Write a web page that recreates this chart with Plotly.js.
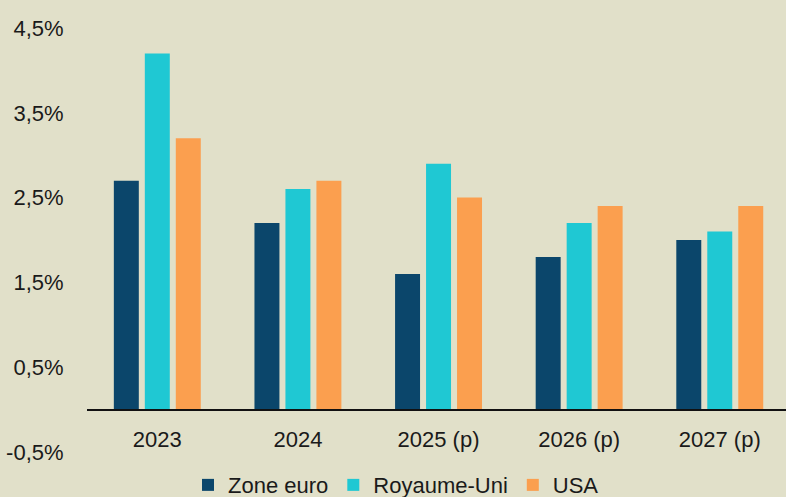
<!DOCTYPE html>
<html>
<head>
<meta charset="utf-8">
<script src="https://cdn.plot.ly/plotly-3.0.1.min.js"></script>
<style>
  html, body { margin: 0; padding: 0; background: #e1e0c9; }
  #chart { width: 786px; height: 497px; }
</style>
</head>
<body>
<div id="chart"></div>
<script>
var categories = ["2023", "2024", "2025 (p)", "2026 (p)", "2027 (p)"];
var seriesNames = ["Zone euro", "Royaume-Uni", "USA"];
var zoneEuro = [2.7, 2.2, 1.6, 1.8, 2.0];
var royaumeUni = [4.2, 2.6, 2.9, 2.2, 2.1];
var usa = [3.2, 2.7, 2.5, 2.4, 2.4];
var tickVals = [-0.5, 0.5, 1.5, 2.5, 3.5, 4.5];
var tickLabels = ["-0,5%", "0,5%", "1,5%", "2,5%", "3,5%", "4,5%"];

var colors = ["#0b466b", "#1fc8d3", "#fb9f4f"];
var values = [zoneEuro, royaumeUni, usa];

var traces = values.map(function (v, i) {
  return {
    type: "bar",
    name: seriesNames[i],
    x: categories,
    y: v,
    marker: { color: colors[i], line: { width: 0 } },
    hoverinfo: "skip"
  };
});

var layout = {
  width: 786,
  height: 497,
  paper_bgcolor: "#e1e0c9",
  plot_bgcolor: "#e1e0c9",
  font: { family: "Liberation Sans, Arial, sans-serif", size: 22, color: "#1a1a1a" },
  margin: { l: 87, r: 0, t: 28, b: 45, autoexpand: false },
  barmode: "group",
  bargap: 0.339,
  bargroupgap: 0.194,
  showlegend: true,
  legend: {
    orientation: "h",
    x: 0.1445,
    xanchor: "left",
    y: -0.078,
    yanchor: "middle",
    bgcolor: "rgba(0,0,0,0)",
    font: { size: 22, color: "#1a1a1a" },
    traceorder: "normal"
  },
  xaxis: {
    type: "category",
    range: [-0.5, 4.471],
    anchor: "free",
    position: 0.1,
    showline: true,
    linecolor: "#111111",
    linewidth: 2,
    showgrid: false,
    zeroline: false,
    ticks: "outside",
    ticklen: 10,
    tickcolor: "rgba(0,0,0,0)",
    tickfont: { size: 22, color: "#1a1a1a" },
    fixedrange: true
  },
  yaxis: {
    range: [-0.5, 4.5],
    showline: false,
    showgrid: false,
    zeroline: false,
    tickmode: "array",
    tickvals: tickVals,
    ticktext: tickLabels,
    ticks: "outside",
    ticklen: 18,
    tickcolor: "rgba(0,0,0,0)",
    tickfont: { size: 22, color: "#1a1a1a" },
    fixedrange: true
  },
  hovermode: false
};

Plotly.newPlot("chart", traces, layout, { displayModeBar: false, staticPlot: true });
</script>
</body>
</html>
